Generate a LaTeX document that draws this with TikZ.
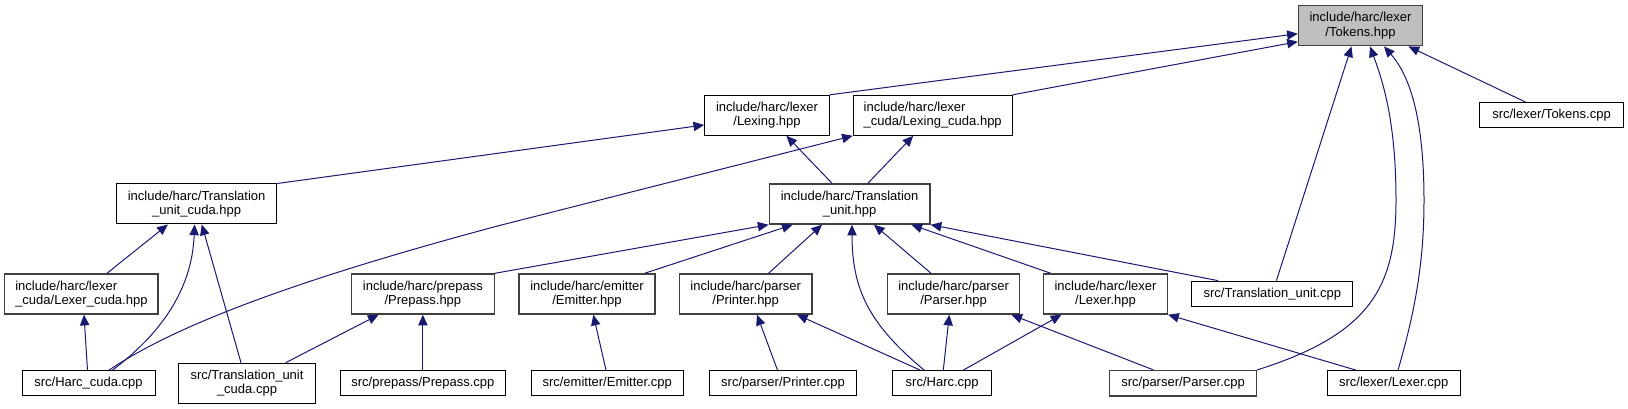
\documentclass[tikz,border=0pt]{standalone}
\usepackage{fontspec}
\setmainfont{Liberation Sans}
\usetikzlibrary{positioning,calc,arrows.meta}
\definecolor{edgeblue}{HTML}{191970}
\definecolor{rootfill}{HTML}{BFBFBF}
\definecolor{hdrline}{HTML}{404040}

\begin{document}
\begin{tikzpicture}[x=0.75pt, y=-0.75pt,
  file/.style={draw=black, line width=0.75pt, fill=white, inner sep=0pt,
    minimum height=30pt, align=center, font=\fontsize{9.75}{10.7}\selectfont},
  hdr/.style={file, draw=hdrline, line width=1.1pt},
  one/.style={minimum height=19pt},
  dep/.style={draw=edgeblue, line width=0.75pt, -{Triangle[length=8pt, width=7pt]}}]
  \useasboundingbox (0,0) rectangle (1628,409);

  % top rank
  \node[hdr, fill=rootfill, minimum width=93pt] (tok) at (1360.5,25.7) {include/harc/lexer\\/Tokens.hpp};
  \node[file, one, minimum width=108pt] (tokcpp) at (1551.5,115.2) {src/lexer/Tokens.cpp};
  \node[file, minimum width=93.5pt] (lexing) at (767,115.3) {include/harc/lexer\\/Lexing.hpp};
  \node[file, align=left, minimum width=119.25pt] (lexcuda) at (932.7,115.3) {include/harc/lexer\\\_cuda/Lexing\_cuda.hpp};

  % translation units
  \node[file, minimum width=120.3pt] (tucuda) at (196.6,204) {include/harc/Translation\\\_unit\_cuda.hpp};
  \node[hdr, minimum width=120.5pt] (tu) at (849.6,204) {include/harc/Translation\\\_unit.hpp};

  % headers
  \node[hdr, align=left, minimum width=115.1pt] (lexercuda) at (81.4,294) {include/harc/lexer\\\_cuda/Lexer\_cuda.hpp};
  \node[hdr, minimum width=107.25pt] (prepassh) at (422.9,294) {include/harc/prepass\\/Prepass.hpp};
  \node[hdr, minimum width=102pt] (emitterh) at (587,294) {include/harc/emitter\\/Emitter.hpp};
  \node[hdr, minimum width=99.2pt] (printerh) at (745.7,294) {include/harc/parser\\/Printer.hpp};
  \node[hdr, minimum width=99pt] (parserh) at (953.6,294) {include/harc/parser\\/Parser.hpp};
  \node[hdr, minimum width=92.85pt] (lexerh) at (1105.5,294) {include/harc/lexer\\/Lexer.hpp};
  \node[file, one, minimum width=120.75pt] (tucpp) at (1272.4,293.8) {src/Translation\_unit.cpp};

  % sources
  \node[file, one, minimum width=99.75pt] (harccuda) at (88.5,383.3) {src/Harc\_cuda.cpp};
  \node[file, minimum width=102.6pt] (tucudacpp) at (247,383.2) {src/Translation\_unit\\\_cuda.cpp};
  \node[file, one, minimum width=123.75pt] (prepasscpp) at (422.9,383.3) {src/prepass/Prepass.cpp};
  \node[file, one, minimum width=114.2pt] (emittercpp) at (607.2,383.3) {src/emitter/Emitter.cpp};
  \node[file, one, minimum width=110.1pt] (printercpp) at (783,383.3) {src/parser/Printer.cpp};
  \node[file, one, minimum width=74.25pt] (harccpp) at (942.2,383.3) {src/Harc.cpp};
  \node[hdr, one, minimum width=110.1pt] (parsercpp) at (1183.1,383.3) {src/parser/Parser.cpp};
  \node[file, one, minimum width=99.8pt] (lexercpp) at (1393.7,383.3) {src/lexer/Lexer.cpp};

  % edges into Tokens.hpp
  \draw[dep] (lexing.north east) -- ($(tok.west)+(0,8)$);
  \draw[dep] (lexcuda.north east) -- ($(tok.west)+(0,16)$);
  \draw[dep] ($(tokcpp.north)+(-26,0)$) -- ($(tok.south)+(48,0)$);
  \draw[dep] ($(tucpp.north)+(4,0)$) -- ($(tok.south)+(-9,0)$);
  \draw[dep] (parsercpp.north east) .. controls ($(parsercpp.north east)+(114,-36)$) and ($(tok.south)+(35.5,240)$)
    .. ($(tok.south)+(35.5,154)$) .. controls ($(tok.south)+(35.5,74)$) and ($(tok.south)+(22,34)$) .. ($(tok.south)+(9.5,0)$);
  \draw[dep] ($(lexercpp.north)+(4.3,0)$) .. controls ($(lexercpp.north)+(22,-61)$) and ($(tok.south)+(63.5,214)$)
    .. ($(tok.south)+(63.5,154)$) .. controls ($(tok.south)+(63.5,74)$) and ($(tok.south)+(50,30)$) .. ($(tok.south)+(23.5,0)$);

  % edges into Lexing / Lexing_cuda
  \draw[dep] (tucuda.north east) -- ($(lexing.west)+(0,9.7)$);
  \draw[dep] ($(harccuda.north)+(20.5,0)$) .. controls ($(harccuda.north)+(81.5,-41)$) and ($(harccuda.north)+(191.5,-86)$)
    .. ($(lexcuda.south west)+(-353.2,89.7)$) -- (lexcuda.south west);
  \draw[dep] ($(tu.north)+(-17.6,0)$) -- ($(lexing.south)+(19.4,0)$);
  \draw[dep] ($(tu.north)+(18.3,0)$) -- ($(lexcuda.south)+(-19.5,0)$);

  % edges into Translation_unit_cuda.hpp
  \draw[dep] ($(lexercuda.north)+(25.6,0)$) -- ($(tucuda.south)+(-28.7,0)$);
  \draw[dep] ($(harccuda.north)+(24,0)$) .. controls ($(harccuda.north)+(71.5,-35.7)$) and ($(tucuda.south)+(-4.6,66)$) .. ($(tucuda.south)+(-2,0)$);
  \draw[dep] ($(tucudacpp.north)+(-6,0)$) -- ($(tucuda.south)+(5.2,0)$);
  \draw[dep] ($(harccuda.north)+(-1,0)$) -- ($(lexercuda.south)+(2.6,0)$);

  % Prepass
  \draw[dep] ($(tucudacpp.north)+(38.7,0)$) -- ($(prepassh.south)+(-44.3,0)$);
  \draw[dep] (prepasscpp.north) -- (prepassh.south);

  % edges into Translation_unit.hpp
  \draw[dep] (prepassh.north east) -- (tu.south west);
  \draw[dep] ($(emitterh.north)+(57.7,0)$) -- ($(tu.south)+(-57,0)$);
  \draw[dep] ($(printerh.north)+(22.9,0)$) -- ($(tu.south)+(-27.6,0)$);
  \draw[dep] ($(harccpp.north)+(-18,0)$) .. controls ($(harccpp.north)+(-72,-45)$) and ($(tu.south)+(2.4,66)$) .. ($(tu.south)+(2.4,0)$);
  \draw[dep] ($(parserh.north)+(-22.6,0)$) -- ($(tu.south)+(24.4,0)$);
  \draw[dep] ($(lexerh.north)+(-54.8,0)$) -- ($(tu.south)+(61.8,0)$);
  \draw[dep] ($(tucpp.north)+(-54.4,0)$) -- (tu.south east);

  % bottom rank
  \draw[dep] ($(emittercpp.north)+(-1.2,0)$) -- ($(emitterh.south)+(6.3,0)$);
  \draw[dep] ($(printercpp.north)+(-5.5,0)$) -- ($(printerh.south)+(11.3,0)$);
  \draw[dep] ($(harccpp.north)+(-22,0)$) -- ($(printerh.south)+(51.3,0)$);
  \draw[dep] ($(harccpp.north)+(1.1,0)$) -- ($(parserh.south)+(-4.3,0)$);
  \draw[dep] ($(harccpp.north)+(21.1,0)$) -- ($(lexerh.south)+(-44.1,0)$);
  \draw[dep] ($(parsercpp.north)+(-29.7,0)$) -- ($(parserh.south)+(57.8,0)$);
  \draw[dep] ($(lexercpp.north)+(-37.7,0)$) -- (lexerh.south east);
\end{tikzpicture}
\end{document}
